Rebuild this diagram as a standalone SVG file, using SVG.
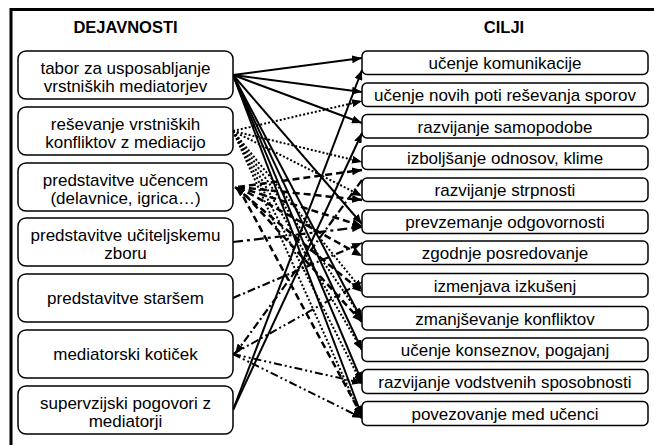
<svg xmlns="http://www.w3.org/2000/svg" width="654" height="445" viewBox="0 0 654 445">
<defs>
<marker id="ah" viewBox="0 0 10 8" refX="10" refY="4" markerWidth="10" markerHeight="8" markerUnits="userSpaceOnUse" orient="auto-start-reverse">
<path d="M0,0 L10,4 L0,8 z" fill="#000" stroke="none"/>
</marker>
</defs>
<style>
.box{fill:#fff;stroke:#000;stroke-width:1.5}
.t{font-family:"Liberation Sans",Arial,sans-serif;font-size:17px;fill:#000;text-anchor:middle}
.h{font-family:"Liberation Sans",Arial,sans-serif;font-size:16.5px;font-weight:bold;fill:#000;text-anchor:middle}
#connectors line{stroke:#000;fill:none;marker-end:url(#ah)}
.s{stroke-width:2}
.d{stroke-width:2;stroke-dasharray:2,2}
.m{stroke-width:2.5;stroke-dasharray:7,4}
.l{stroke-width:2.2;stroke-dasharray:10,4,3,4}
.dd{stroke-width:2.2;stroke-dasharray:8,3,2,3}
.ddd{stroke-width:2;stroke-dasharray:8,3,2,3,2,3}
</style>
<rect x="0" y="0" width="654" height="445" fill="#fff"/>
<path d="M11,445 L11,9.5 L654,9.5" fill="none" stroke="#000" stroke-width="3"/>
<text class="h" x="125.5" y="33">DEJAVNOSTI</text>
<text class="h" x="504" y="33">CILJI</text>

<g id="connectors">
<line class="s" x1="233" y1="75" x2="362" y2="58"/>
<line class="s" x1="233" y1="75" x2="362" y2="92"/>
<line class="s" x1="233" y1="75" x2="362" y2="123"/>
<line class="s" x1="233" y1="75" x2="362" y2="224"/>
<line class="s" x1="233" y1="75" x2="362" y2="320"/>
<line class="s" x1="233" y1="75" x2="362" y2="350"/>
<line class="s" x1="233" y1="75" x2="362" y2="382"/>
<line class="s" x1="233" y1="75" x2="362" y2="416"/>
<line class="s" x1="233" y1="410" x2="362" y2="70"/>
<line class="s" x1="233" y1="410" x2="362" y2="133"/>
<line class="d" x1="233" y1="131" x2="362" y2="101"/>
<line class="d" x1="233" y1="131" x2="362" y2="162"/>
<line class="d" x1="233" y1="131" x2="362" y2="196"/>
<line class="d" x1="233" y1="131" x2="362" y2="290"/>
<line class="d" x1="233" y1="131" x2="362" y2="318"/>
<line class="d" x1="233" y1="131" x2="362" y2="350"/>
<line class="d" x1="233" y1="131" x2="362" y2="384"/>
<line class="d" x1="233" y1="131" x2="362" y2="418"/>
<line class="m" x1="238" y1="187" x2="362" y2="170"/>
<line class="m" x1="238" y1="187" x2="362" y2="200"/>
<line class="m" x1="238" y1="187" x2="362" y2="226"/>
<line class="m" x1="238" y1="187" x2="362" y2="256"/>
<line class="m" x1="235" y1="187" x2="362" y2="292" style="marker-start:url(#ah)"/>
<line class="m" x1="238" y1="187" x2="362" y2="322"/>
<line class="m" x1="238" y1="187" x2="362" y2="416"/>
<line class="l" x1="233" y1="242" x2="362" y2="227"/>
<line class="dd" x1="233" y1="298" x2="362" y2="243"/>
<line class="ddd" x1="233" y1="354" x2="362" y2="282"/>
<line class="ddd" x1="233" y1="354" x2="362" y2="383"/>
<line class="ddd" x1="233" y1="354" x2="362" y2="418"/>
<line class="dd" x1="362" y1="180" x2="235" y2="354"/>
</g>

<g id="L1"><rect class="box" x="18" y="51" width="215" height="48" rx="8"/><text class="t" x="125.5" y="74">tabor za usposabljanje</text><text class="t" x="125.5" y="92">vrstniških mediatorjev</text></g>
<g id="L2"><rect class="box" x="18" y="107" width="215" height="48" rx="8"/><text class="t" x="125.5" y="130">reševanje vrstniških</text><text class="t" x="125.5" y="148">konfliktov z mediacijo</text></g>
<g id="L3"><rect class="box" x="18" y="163" width="215" height="48" rx="8"/><text class="t" x="125.5" y="186">predstavitve učencem</text><text class="t" x="125.5" y="204">(delavnice, igrica…)</text></g>
<g id="L4"><rect class="box" x="18" y="218" width="215" height="48" rx="8"/><text class="t" x="125.5" y="241">predstavitve učiteljskemu</text><text class="t" x="125.5" y="259">zboru</text></g>
<g id="L5"><rect class="box" x="18" y="274" width="215" height="48" rx="8"/><text class="t" x="125.5" y="304">predstavitve staršem</text></g>
<g id="L6"><rect class="box" x="18" y="330" width="215" height="48" rx="8"/><text class="t" x="125.5" y="360">mediatorski kotiček</text></g>
<g id="L7"><rect class="box" x="18" y="386" width="215" height="48" rx="8"/><text class="t" x="125.5" y="409">supervzijski pogovori z</text><text class="t" x="125.5" y="427">mediatorji</text></g>

<g id="R1"><rect class="box" x="362" y="51" width="286" height="23.5" rx="5"/><text class="t" x="505" y="69">učenje komunikacije</text></g>
<g id="R2"><rect class="box" x="362" y="83" width="286" height="23.5" rx="5"/><text class="t" x="505" y="101">učenje novih poti reševanja sporov</text></g>
<g id="R3"><rect class="box" x="362" y="114.5" width="286" height="23.5" rx="5"/><text class="t" x="505" y="132.5">razvijanje samopodobe</text></g>
<g id="R4"><rect class="box" x="362" y="146" width="286" height="23.5" rx="5"/><text class="t" x="505" y="164">izboljšanje odnosov, klime</text></g>
<g id="R5"><rect class="box" x="362" y="178" width="286" height="23.5" rx="5"/><text class="t" x="505" y="196">razvijanje strpnosti</text></g>
<g id="R6"><rect class="box" x="362" y="210" width="286" height="23.5" rx="5"/><text class="t" x="505" y="228">prevzemanje odgovornosti</text></g>
<g id="R7"><rect class="box" x="362" y="241" width="286" height="23.5" rx="5"/><text class="t" x="505" y="259">zgodnje posredovanje</text></g>
<g id="R8"><rect class="box" x="362" y="273.5" width="286" height="23.5" rx="5"/><text class="t" x="505" y="291.5">izmenjava izkušenj</text></g>
<g id="R9"><rect class="box" x="362" y="306.5" width="286" height="23.5" rx="5"/><text class="t" x="505" y="324.5">zmanjševanje konfliktov</text></g>
<g id="R10"><rect class="box" x="362" y="338" width="286" height="23.5" rx="5"/><text class="t" x="505" y="356">učenje konseznov, pogajanj</text></g>
<g id="R11"><rect class="box" x="362" y="369.5" width="286" height="24" rx="5"/><text class="t" x="505" y="388">razvijanje vodstvenih sposobnosti</text></g>
<g id="R12"><rect class="box" x="362" y="401.5" width="286" height="24" rx="5"/><text class="t" x="505" y="420">povezovanje med učenci</text></g>
</svg>
